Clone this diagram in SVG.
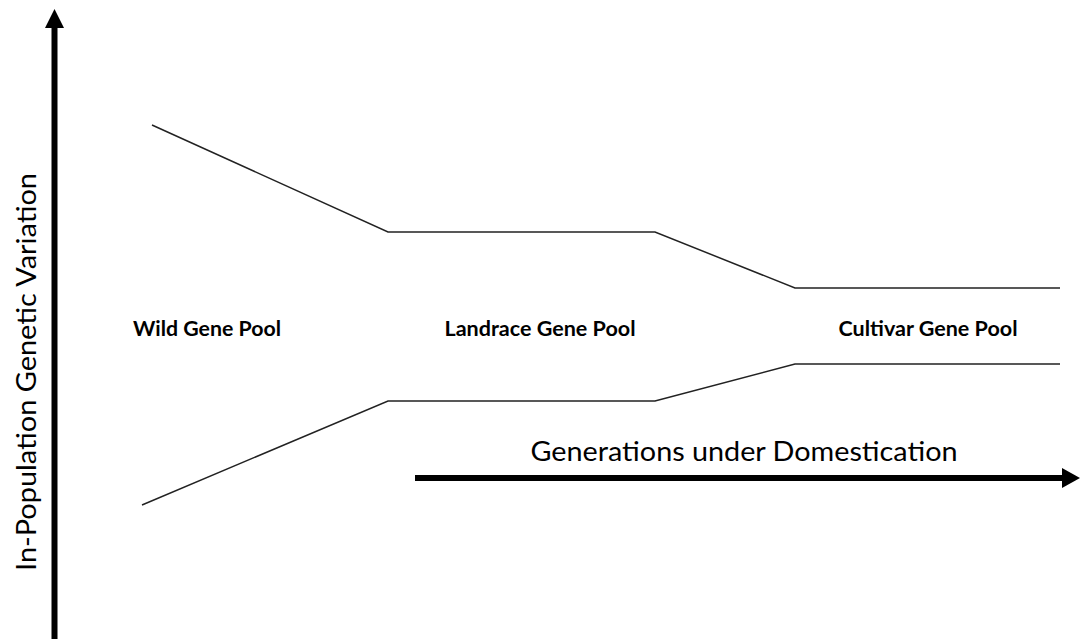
<svg xmlns="http://www.w3.org/2000/svg" width="1081" height="639" viewBox="0 0 1081 639">
<style>
.lbl{font-family:Lato,"Open Sans","Liberation Sans",sans-serif;font-weight:bold;font-size:21px;fill:#000;text-anchor:middle}
.ax{font-family:Lato,"Open Sans","Liberation Sans",sans-serif;font-size:26px;fill:#000;text-anchor:middle}
.curve{fill:none;stroke:#222;stroke-width:1.5}
.axis{stroke:#000;stroke-width:6;fill:none}
</style>
<rect width="1081" height="639" fill="#fff"/>
<g id="connectors">
<polyline class="curve" points="152,125 388,232 655,232 795,288 1060,288"/>
<polyline class="curve" points="142,505 388,401 655,401 795,364 1060,364"/>
</g>
<g id="y-axis">
<line class="axis" x1="54.5" y1="639" x2="54.5" y2="26"/>
<polygon points="45,28 54.5,9 64,28" fill="#000"/>
<text class="ax" transform="translate(36,372) rotate(-90)" textLength="398" lengthAdjust="spacingAndGlyphs">In-Population Genetic Variation</text>
</g>
<g id="x-axis">
<line class="axis" x1="415" y1="478" x2="1065" y2="478"/>
<polygon points="1062,468 1080,478 1062,488" fill="#000"/>
<text class="ax" x="744" y="461" textLength="427" lengthAdjust="spacingAndGlyphs">Generations under Domestication</text>
</g>
<g id="wild"><text class="lbl" x="207" y="336" textLength="148" lengthAdjust="spacingAndGlyphs">Wild Gene Pool</text></g>
<g id="landrace"><text class="lbl" x="540" y="336" textLength="191" lengthAdjust="spacingAndGlyphs">Landrace Gene Pool</text></g>
<g id="cultivar"><text class="lbl" x="928" y="336" textLength="179" lengthAdjust="spacingAndGlyphs">Cultivar Gene Pool</text></g>
</svg>
